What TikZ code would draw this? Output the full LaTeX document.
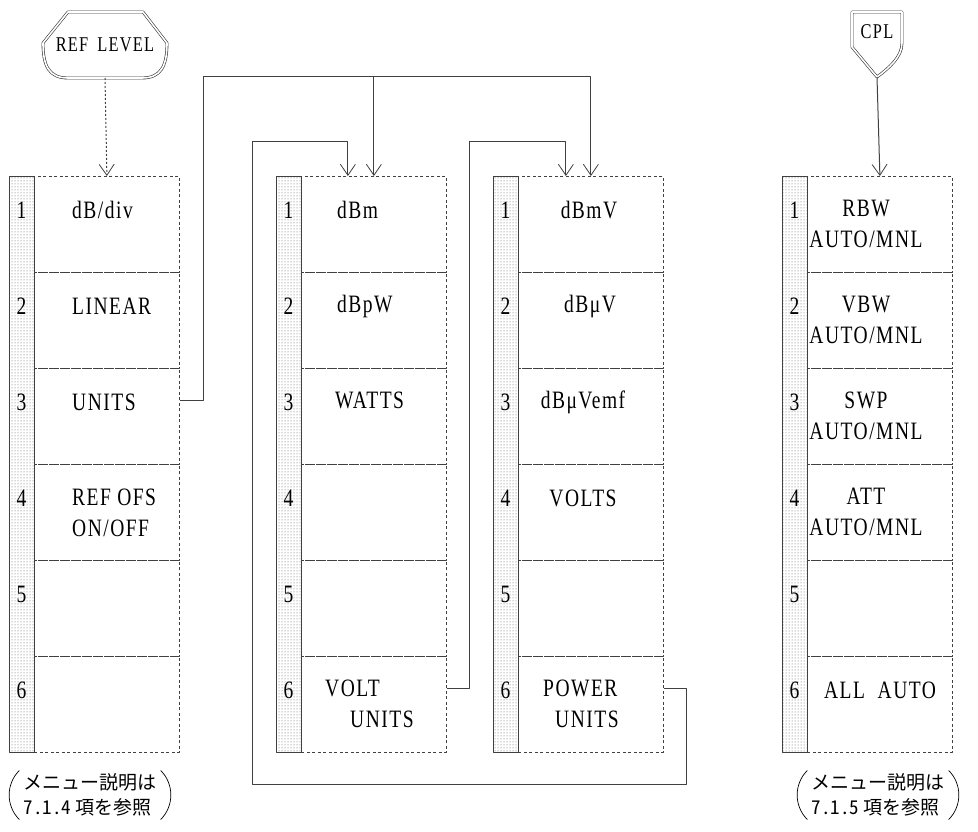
\documentclass[tikz,border=0pt]{standalone}
\usepackage{fontspec}
\usetikzlibrary{arrows.meta,patterns}
\newfontfamily\keyfont[FakeStretch=0.78,LetterSpace=6]{Liberation Serif}
\newfontfamily\jpfont{Noto Sans CJK JP}
\newfontfamily\jphalf[CharacterWidth=Half]{Noto Sans CJK JP}

\begin{document}
\begin{tikzpicture}[x=1pt,y=-1pt,line join=round,
  cell/.style={draw=black!75,dash pattern=on 3pt off 2.5pt,line width=0.8pt,minimum width=145pt,minimum height=96pt,inner sep=0pt},
  stipple/.style={draw=black!75,line width=0.8pt,pattern=dots,pattern color=black!65},
  lbl/.style={font=\keyfont\fontsize{25}{31}\selectfont,inner sep=0pt},
  keylbl/.style={font=\keyfont\fontsize{21}{25}\selectfont,inner sep=0pt},
  keycap/.style={draw=black!80,double,double distance=1.6pt,line width=0.6pt},
  wire/.style={draw=black!75,line width=1pt},
  feed/.style={wire,-{Straight Barb[length=11pt,width=15pt,line width=0.8pt]}},
  note/.style={font=\jpfont\fontsize{19}{25}\selectfont,align=left,inner xsep=0pt,inner ysep=3pt}]
  \useasboundingbox (0,0) rectangle (978,832);

  % soft-key menus
  \foreach \col/\bx in {lv/9,pw/276,vt/493,cp/782}{
    \draw[stipple] (\bx,176) rectangle ++(25,576);
    \foreach \r [evaluate=\r as \ry using 176+96*(\r-1)] in {1,...,6}{
      \node[cell,anchor=north west] (\col\r) at ({\bx+25},\ry) {};
      \node[lbl] (\col\r n) at ({\bx+12.5},{\ry+34}) {\r};
    }
  }

  \node[lbl,anchor=west] (lvA) at (72,210) {dB/div};
  \node[lbl,anchor=west] (lvB) at (72,306) {LINEAR};
  \node[lbl,anchor=west] (lvC) at (72,402) {UNITS};
  \node[lbl,anchor=west,align=left] (lvD) at (72,513) {REF OFS\\ON/OFF};

  \node[lbl,anchor=west] (pwA) at (337,210) {dBm};
  \node[lbl,anchor=west] (pwB) at (337,306) {dBpW};
  \node[lbl,anchor=west] (pwC) at (335,400) {WATTS};
  \node[lbl,anchor=west,align=left] (pwF) at (325,704) {VOLT\\\hspace*{25pt}UNITS};

  \node[lbl] (vtA) at (589,210) {dBmV};
  \node[lbl] (vtB) at (590,306) {dBμV};
  \node[lbl] (vtC) at (583,402) {dBμVemf};
  \node[lbl] (vtD) at (583,498) {VOLTS};
  \node[lbl,anchor=west,align=left] (vtF) at (543,704) {POWER\\\hspace*{12pt}UNITS};

  \node[lbl,align=center] (cpA) at (866,224) {RBW\\AUTO/MNL};
  \node[lbl,align=center] (cpB) at (866,320) {VBW\\AUTO/MNL};
  \node[lbl,align=center] (cpC) at (866,416) {SWP\\AUTO/MNL};
  \node[lbl,align=center] (cpD) at (866,512) {ATT\\AUTO/MNL};
  \node[lbl] (cpF) at (880,690) {ALL~~AUTO};

  % panel keys
  \node[keylbl] (reflevel) at (105,45) {REF\hspace{9pt}LEVEL};
  \draw[keycap] (68,12) -- (143,12) -- (167,43) .. controls (167,66) and (161,78) .. (142,78) -- (68,78) .. controls (49,78) and (43,66) .. (43,43) -- cycle;
  \coordinate (reftip) at (105,78);
  \draw[feed,dash pattern=on 2pt off 2pt] (reftip) -- (lv1.north);

  \node[keylbl] (cplkey) at (877,32) {CPL};
  \draw[keycap] (852,12) -- (902,12) -- (902,43) .. controls (902,57) and (889,68) .. (877,77) -- (852,47) -- cycle;
  \coordinate (cpltip) at (877,77);
  \draw[feed] (cpltip) -- (cp1.north);

  % menu links
  \coordinate (unitbus) at (203,77);
  \draw[feed] ([yshift=16pt]lv3.east) -| (unitbus) -| (vt1.north);
  \draw[feed] (pw1.north |- unitbus) -- (pw1.north);
  \draw[feed] ([yshift=16pt]pw6.east) -| (469,142) -| ([xshift=-25pt]vt1.north);
  \draw[feed] ([yshift=16pt]vt6.east) -| (686,784) -| (252,142) -| ([xshift=-26pt]pw1.north);

  % notes
  \node[note] (lvnote) at (90,795) {メニュー説明は\\{\jphalf 7.1.4} 項を参照};
  \draw[line width=0.7pt] ([xshift=-4pt]lvnote.north west) to[bend right=45] ([xshift=-4pt]lvnote.south west);
  \draw[line width=0.7pt] ([xshift=4pt]lvnote.north east) to[bend left=45] ([xshift=4pt]lvnote.south east);
  \node[note] (cpnote) at (878,795) {メニュー説明は\\{\jphalf 7.1.5} 項を参照};
  \draw[line width=0.7pt] ([xshift=-4pt]cpnote.north west) to[bend right=45] ([xshift=-4pt]cpnote.south west);
  \draw[line width=0.7pt] ([xshift=4pt]cpnote.north east) to[bend left=45] ([xshift=4pt]cpnote.south east);
\end{tikzpicture}
\end{document}
